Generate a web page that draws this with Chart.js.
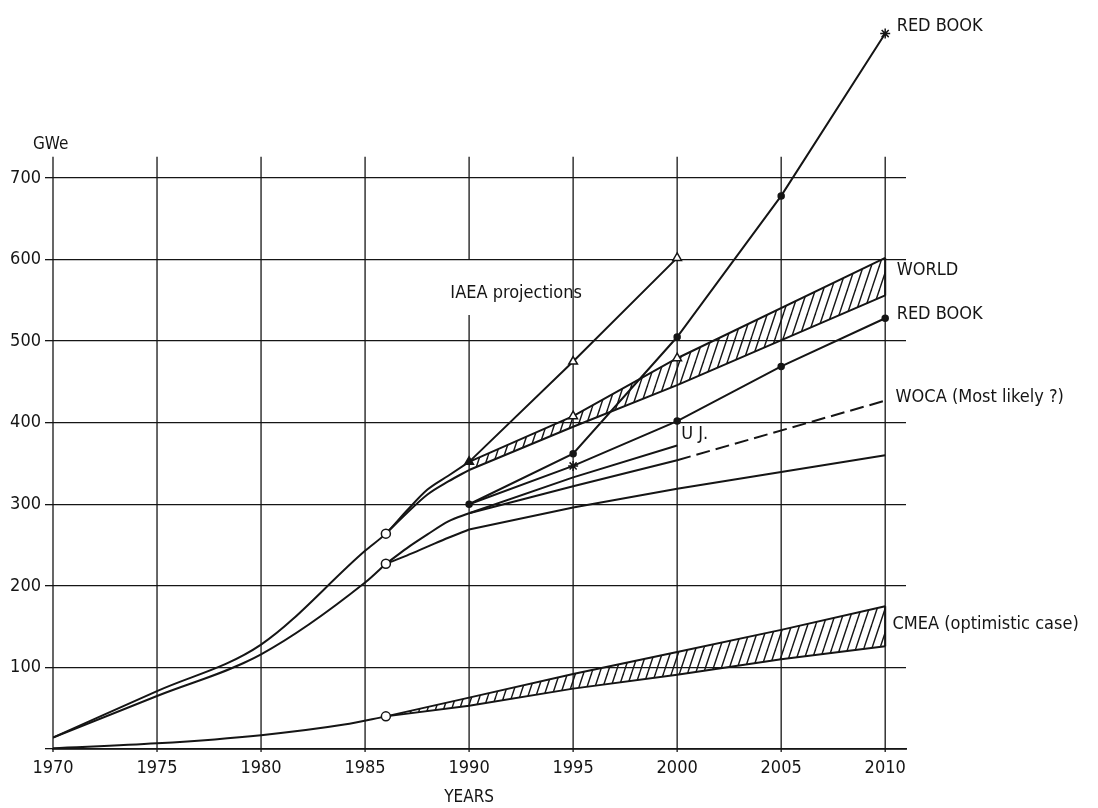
<!DOCTYPE html>
<html>
<head>
<meta charset="utf-8">
<script src="https://cdn.jsdelivr.net/npm/chart.js@4.4.1/dist/chart.umd.min.js"></script>
<style>
  html, body { margin: 0; padding: 0; background: #fff; }
  canvas { display: block; }
</style>
</head>
<body>
<canvas id="gwe-chart" width="1098" height="808"></canvas>
<script>
// --- data (GWe) ---
const xTickYears = [1970, 1975, 1980, 1985, 1990, 1995, 2000, 2005, 2010];
const yTickValues = [0, 100, 200, 300, 400, 500, 600, 700];

// world, historical + IAEA upper path
const worldHistYears = [1970, 1975, 1980, 1985, 1986, 1987, 1988, 1989, 1990];
const worldHistValues = [14, 71, 128, 243, 264, 292, 318, 335, 352];
const worldHist2Years = [1986, 1987, 1988, 1989, 1990];
const worldHist2Values = [264, 289, 312, 328, 342];

const iaeaHighYears = [1990, 1995, 2000];
const iaeaHighValues = [352, 475, 602];

const worldBandYears = [1990, 1995, 2000, 2010];
const worldBandTop = [352, 408, 479, 602];
const worldBandBottom = [342, 395, 446, 556];

// WOCA
const wocaHistYears = [1970, 1975, 1980, 1985, 1986];
const wocaHistValues = [14, 65, 116, 204, 227];
const wocaBranchYears = [1986, 1987, 1988, 1989, 1990];
const wocaBranchUp = [227, 246, 263, 279, 289];
const wocaBranchLow = [227, 237, 248, 259, 269];

const redBookYears = [1990, 1995, 2000, 2005, 2010];
const redBookHigh = [300, 362, 505, 678, 877];
const redBookLow = [300, 347, 402, 469, 528];

const wocaMidYears = [1990, 1995, 2000];
const wocaMidA = [289, 333, 372];
const wocaMidB = [289, 322, 354];
const wocaLikelyYears = [2000, 2010];
const wocaLikelyValues = [354, 427];
const wocaLowYears = [1990, 1995, 2000, 2010];
const wocaLowValues = [269, 296, 319, 360];

// CMEA
const cmeaHistYears = [1970, 1975, 1980, 1984, 1986];
const cmeaHistValues = [1, 7, 17, 30, 40];
const cmeaBandYears = [1986, 1990, 1995, 2000, 2005, 2010];
const cmeaBandTop = [40, 63, 92, 119, 146, 175];
const cmeaBandBottom = [40, 53, 74, 91, 110, 126];

const INK = '#151515';
const FONT = "'DejaVu Sans Condensed', 'Liberation Sans Narrow', 'DejaVu Sans', sans-serif";

function hatch() {
    const w = 8, h = 24;
    const c = document.createElement('canvas');
    c.width = w; c.height = h;
    const g = c.getContext('2d');
    g.strokeStyle = INK;
    g.lineWidth = 1.4;
    [[-w, 0], [0, w], [w, 2 * w]].forEach(([a, b]) => {
        g.beginPath();
        g.moveTo(a, h);
        g.lineTo(b, 0);
        g.stroke();
    });
    return document.getElementById('gwe-chart').getContext('2d').createPattern(c, 'repeat');
}

const markKinds = {
    ring:  { style: 'circle', r: 4.5, bg: '#fff' },
    tri:   { style: 'triangle', r: 5, bg: '#fff' },
    triB:  { style: 'triangle', r: 5, bg: INK },
    dot:   { style: 'circle', r: 3, bg: INK },
    star:  { style: 'star', r: 5, bg: INK }
};

function line(xs, ys, extra = {}, marks = {}) {
    const kinds = xs.map(x => markKinds[marks[x]]);
    return Object.assign({
        data: xs.map((x, i) => ({ x: x, y: ys[i] })),
        borderColor: INK,
        borderWidth: 2,
        tension: 0,
        fill: false,
        pointStyle: kinds.map(k => k ? k.style : 'circle'),
        pointRadius: kinds.map(k => k ? k.r : 0),
        pointBackgroundColor: kinds.map(k => k ? k.bg : INK),
        pointBorderColor: INK,
        pointBorderWidth: 1.5,
        pointHoverRadius: 0
    }, extra);
}

const smooth = { cubicInterpolationMode: 'monotone' };
const last = arr => arr[arr.length - 1];
const pattern = hatch();

const datasets = [];
datasets.push(line(worldHistYears, worldHistValues, smooth, { 1986: 'ring' }));
datasets.push(line(worldHist2Years, worldHist2Values, smooth));
datasets.push(line(iaeaHighYears, iaeaHighValues, {}, { 1995: 'tri', 2000: 'tri' }));
const worldLowIdx = datasets.length;
datasets.push(line(worldBandYears, worldBandBottom));
datasets.push(line(worldBandYears, worldBandTop,
    { fill: { target: worldLowIdx }, backgroundColor: pattern },
    { 1990: 'triB', 1995: 'tri', 2000: 'tri' }));
datasets.push(line([2010, 2010], [last(worldBandBottom), last(worldBandTop)]));

datasets.push(line(wocaHistYears, wocaHistValues, smooth, { 1986: 'ring' }));
datasets.push(line(wocaBranchYears, wocaBranchUp, smooth));
datasets.push(line(wocaBranchYears, wocaBranchLow, smooth));
datasets.push(line(redBookYears, redBookHigh, {},
    { 1990: 'dot', 1995: 'dot', 2000: 'dot', 2005: 'dot', 2010: 'star' }));
datasets.push(line(redBookYears, redBookLow, {},
    { 1995: 'star', 2000: 'dot', 2005: 'dot', 2010: 'dot' }));
datasets.push(line(wocaMidYears, wocaMidA));
datasets.push(line(wocaMidYears, wocaMidB));
datasets.push(line(wocaLikelyYears, wocaLikelyValues, { borderDash: [14, 6] }));
datasets.push(line(wocaLowYears, wocaLowValues));

datasets.push(line(cmeaHistYears, cmeaHistValues, smooth, { 1986: 'ring' }));
const cmeaLowIdx = datasets.length;
datasets.push(line(cmeaBandYears, cmeaBandBottom));
datasets.push(line(cmeaBandYears, cmeaBandTop, { fill: { target: cmeaLowIdx }, backgroundColor: pattern }));
datasets.push(line([2010, 2010], [last(cmeaBandBottom), last(cmeaBandTop)]));

// vertical grid: stops a little above 700, with a gap under the IAEA label
const gridTop = 726;
const gridGaps = { 1990: [532, 600] };

const verticalGrid = {
    id: 'verticalGrid',
    beforeDatasetsDraw(chart) {
        const { ctx, scales: { x, y } } = chart;
        ctx.save();
        ctx.strokeStyle = INK;
        ctx.lineWidth = 1.3;
        xTickYears.forEach(yr => {
            const px = x.getPixelForValue(yr);
            const runs = gridGaps[yr]
                ? [[0, gridGaps[yr][0]], [gridGaps[yr][1], gridTop]]
                : [[0, gridTop]];
            runs.forEach(([a, b]) => {
                ctx.beginPath();
                ctx.moveTo(px, y.getPixelForValue(a) + (a === 0 ? 3 : 0));
                ctx.lineTo(px, y.getPixelForValue(b));
                ctx.stroke();
            });
        });
        ctx.restore();
    }
};

const notes = [
    { text: 'RED BOOK', x: 2010.55, y: 886 },
    { text: 'WORLD', x: 2010.55, y: 587 },
    { text: 'RED BOOK', x: 2010.55, y: 533 },
    { text: 'WOCA (Most likely ?)', x: 2010.5, y: 431 },
    { text: 'CMEA (optimistic case)', x: 2010.35, y: 153 },
    { text: 'U J.', x: 2000.2, y: 386 },
    { text: 'IAEA projections', x: 1989.1, y: 559 }
];

const textLabels = {
    id: 'textLabels',
    afterDraw(chart) {
        const { ctx, scales: { x, y } } = chart;
        ctx.save();
        ctx.fillStyle = INK;
        ctx.font = '18px ' + FONT;
        ctx.textBaseline = 'middle';
        ctx.textAlign = 'left';
        notes.forEach(n => ctx.fillText(n.text, x.getPixelForValue(n.x), y.getPixelForValue(n.y)));
        ctx.font = '17px ' + FONT;
        ctx.fillText('GWe', x.left - 20, y.getPixelForValue(741));
        ctx.textAlign = 'center';
        ctx.fillText('YEARS', x.getPixelForValue(1990), 798);
        ctx.restore();
    }
};

Chart.defaults.font.family = FONT;
Chart.defaults.color = INK;

new Chart(document.getElementById('gwe-chart'), {
    type: 'line',
    data: { datasets: datasets },
    plugins: [verticalGrid, textLabels],
    options: {
        responsive: false,
        animation: false,
        layout: { padding: { left: 0, right: 192, top: 6, bottom: 0 } },
        plugins: { legend: { display: false }, tooltip: { enabled: false } },
        scales: {
            x: {
                type: 'linear',
                min: 1970,
                max: 2011,
                afterBuildTicks: s => { s.ticks = xTickYears.map(v => ({ value: v })); },
                afterFit: s => { s.height = 59; },
                grid: { display: false, drawTicks: false },
                border: { display: true, color: INK, width: 1.8 },
                ticks: { font: { size: 18 }, color: INK, padding: 9, maxRotation: 0,
                    callback: v => String(v) }
            },
            y: {
                type: 'linear',
                min: 0,
                max: 900,
                afterBuildTicks: s => { s.ticks = yTickValues.map(v => ({ value: v })); },
                afterFit: s => { s.width = 53; },
                grid: { color: INK, lineWidth: 1.3, tickLength: 8, drawTicks: true },
                border: { display: false },
                ticks: { font: { size: 18 }, color: INK, padding: 4,
                    callback: v => v === 0 ? '' : String(v) }
            }
        }
    }
});
</script>
</body>
</html>
